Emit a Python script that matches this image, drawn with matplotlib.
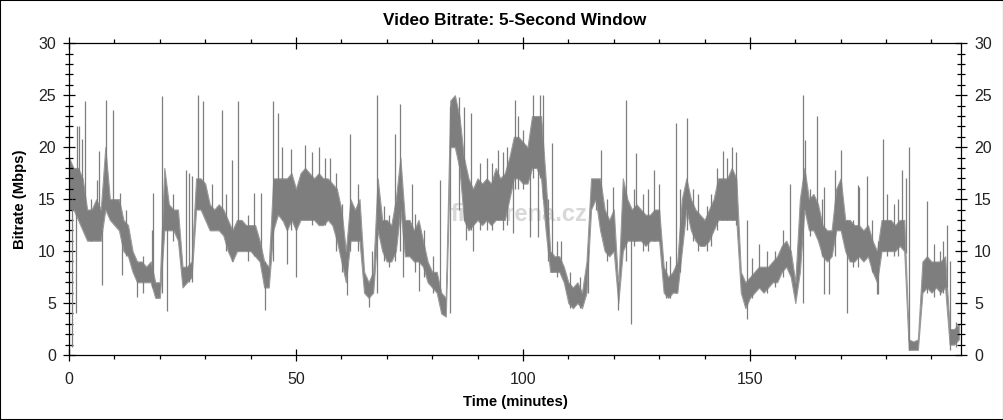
#!/usr/bin/env python3
"""Video bitrate trace (5-second window), redrawn with matplotlib."""
import numpy as np
import matplotlib

matplotlib.use('Agg')
import matplotlib.pyplot as plt
from matplotlib.patches import Rectangle

plt.rcParams['font.family'] = ['Liberation Sans', 'DejaVu Sans']

# per-minute band of the trace (low / high edge, Mbps)
minutes = list(range(197))
band_lo = [
    14, 14, 13, 12, 11, 11, 11, 11, 14, 13,      # 0-9
    12.5, 12, 10, 9.5, 8, 7, 7, 7, 7, 5.5,       # 10-19
    5.5, 12, 12, 12, 11, 6.5, 7, 7.5, 14, 14,    # 20-29
    13, 12, 12, 12, 11.5, 10, 9, 10, 10, 10,     # 30-39
    10, 9.5, 9, 6.5, 6.5, 12, 13.5, 13, 12, 13,  # 40-49
    12, 13, 13, 13, 13, 12.5, 12.5, 13, 12.5, 11,  # 50-59
    9, 7, 11, 11, 11, 6, 5.5, 6, 12, 10,         # 60-69
    9, 9, 10, 14, 9.5, 9.5, 9, 9, 8.5, 7,        # 70-79
    6.5, 6, 4, 3.7, 20, 20, 18, 13, 12, 12.5,    # 80-89
    13, 12.5, 13, 12.5, 13, 13, 13, 15, 17, 17,  # 90-99
    16.5, 16.5, 18, 18, 17, 12, 8, 8, 8, 7,      # 100-109
    5, 4.5, 5, 4.5, 6, 14, 15, 12, 10, 9.5,      # 110-119
    10, 5, 10, 11, 11, 11, 11, 10.5, 11, 11,     # 120-129
    11, 6, 5.5, 6, 6, 10, 14, 12, 11, 10.5,      # 130-139
    10.5, 11, 12, 13, 13, 13, 13, 13, 6, 4.5,    # 140-149
    5.5, 6, 6.5, 6, 6.5, 7, 7, 8, 8.5, 7.5,      # 150-159
    5, 8, 14, 12, 12, 11, 9.5, 9, 9.5, 12,       # 160-169
    12, 10, 9, 9, 9.5, 9, 9.5, 8, 7, 10,         # 170-179
    10, 10, 10, 10.5, 10, 0.5, 0.5, 0.5, 6, 6.5,  # 180-189
    6, 6.5, 6, 6.5, 1, 1, 1.5,                   # 190-196
]
band_hi = [
    19, 18, 18, 17, 14, 14, 15, 14, 20, 15,
    15, 15, 13, 12.5, 10, 9, 9, 8.5, 9, 7,
    7, 18, 14.5, 14, 14, 8.5, 8.5, 9, 17, 17,
    16.5, 14.5, 14, 14.5, 14, 13, 12, 13, 13, 12.5,
    12.5, 12.5, 11, 9, 8.5, 17, 17, 17, 17, 17.5,
    16, 17.5, 18, 17.5, 17, 17.5, 17, 17, 16.5, 16,
    14, 10, 15, 14, 15, 8, 7, 8, 17, 13,
    13, 12.5, 15, 19, 13, 13, 12, 13, 11, 9,
    8, 8, 6, 5.5, 24.5, 25, 23, 19, 17, 16,
    17, 16.5, 17, 16.5, 18, 17, 17.5, 19, 21, 21,
    20.5, 20, 23, 23, 23, 17, 10, 9.5, 9.5, 8.5,
    7, 6.5, 7, 6, 9, 17, 17, 17, 14, 13,
    14, 6.5, 17, 15, 14, 14.5, 14, 13.5, 13.5, 14,
    14, 8.5, 7.5, 8, 9, 15, 17, 15, 14, 13.5,
    13, 14, 15, 17, 17, 17, 18, 17, 8, 7,
    7.5, 8, 8.5, 8.5, 8.5, 9, 9.5, 10.5, 11, 10,
    7, 15, 18, 15, 15.5, 14.5, 12.5, 12, 12, 16,
    17, 13, 13, 12.5, 12.5, 12, 12.5, 11, 10, 13,
    13, 13, 12.5, 13, 13, 1.5, 1.3, 1.5, 9, 9.5,
    9, 9, 9, 9.5, 2.5, 2.5, 3,
]

# narrow spikes and dips (minute, bottom, top)
spike_t = [0.6, 1.5, 1.8, 2.1, 2.8, 3.5, 4.8, 6.1, 6.7, 7.3, 8.2, 9.8, 11.2,
           11.6, 12.5, 14.9, 16.2, 18.2, 18.6, 20.4, 21.5, 23.0, 25.8, 26.5,
           27.2, 28.5, 29.6, 31.5, 33.6, 34.6, 36.0, 37.3, 39.4, 40.8, 42.2,
           43.2, 45.0, 46.0, 47.0, 48.0, 49.0, 50.0, 52.0, 53.5, 55.0, 56.5,
           57.5, 58.9, 60.2, 61.2, 61.9, 63.6, 66.0, 66.7, 67.9, 69.5, 70.5,
           71.8, 73.0, 73.5, 75.5, 76.3, 77.0, 78.3, 80.2, 81.7, 83.9, 86.0,
           87.0, 87.5, 88.5, 89.0, 90.5, 92.0, 93.2, 94.6, 95.5, 96.5, 97.8,
           98.2, 99.0, 100.0, 101.5, 102.3, 103.3, 103.8, 104.5, 105.6, 106.3,
           107.5, 108.4, 110.3, 112.6, 114.3, 116.0, 117.3, 118.6, 119.9,
           121.0, 122.7, 123.7, 124.5, 125.0, 126.5, 127.6, 128.8, 130.0,
           131.6, 132.5, 133.8, 134.7, 136.2, 137.5, 138.6, 140.5, 141.5,
           142.8, 144.0, 145.0, 146.0, 147.0, 149.3, 150.5, 152.0, 153.8,
           155.5, 157.3, 158.8, 161.6, 162.1, 163.3, 164.7, 165.8, 166.3,
           167.5, 168.8, 170.0, 171.3, 172.8, 173.8, 174.1, 175.8, 176.8,
           177.9, 178.2, 179.4, 180.2, 181.7, 182.6, 183.6, 184.3, 185.1,
           188.9, 190.5, 191.8, 192.6, 193.5, 194.0, 195.5]
spike_lo = [0.8, 4, 14, 14, 14, 12, 11, 12, 12, 6.7, 14, 13, 12,
            7.7, 9.5, 5.6, 6, 6.5, 6.6, 6, 4.2, 11, 7, 7,
            7, 15, 14, 12, 12, 10, 9, 10, 9, 9.5, 9,
            4.3, 9, 14, 13, 8.8, 12, 7.5, 14, 12.5, 14, 12.5,
            13, 10, 8, 5.8, 10, 10, 4.6, 6, 6, 9, 8.5,
            9, 10, 7.5, 10, 8, 6.2, 7.5, 6, 6, 4, 14,
            13, 11.1, 12, 10, 12, 12, 12, 13, 12, 12.5, 11.7,
            16, 16, 16, 11.4, 17, 11.4, 17, 15, 9, 8,
            7.5, 8, 4.5, 4.5, 6, 14, 13, 9, 10,
            4.3, 9, 3, 10.5, 11, 10, 10, 11, 11,
            5.5, 5.5, 6, 8, 12, 11, 10, 10, 10.5,
            12, 13, 13, 13, 12.5, 3.5, 5.5, 6.5, 6,
            6.5, 7.5, 8.5, 5, 14, 11.5, 12, 9.5, 5.9,
            5.9, 9.5, 12, 4, 8.5, 8.5, 9.5, 9.5, 8,
            5.9, 5.9, 10, 9.5, 9.5, 9.5, 10.5, 9.8, 0.5,
            6, 5.6, 5.8, 6, 6.5, 0.5, 0.8]
spike_hi = [15, 14, 22, 22, 20.8, 24.4, 15, 16.8, 19.6, 12, 24.5, 23.6, 15.6,
            12, 14, 8, 9.5, 12, 15.6, 24.9, 13, 15.5, 17.8, 17.5,
            17.2, 25, 24.4, 16.5, 23.6, 15.5, 18.8, 24.4, 13.5, 15.6, 15.6,
            9, 24.4, 23.3, 20, 14, 19.8, 13, 20.2, 19.5, 20, 19,
            19, 17.5, 14.5, 9, 21.3, 16.5, 6, 10, 25, 14.3, 13.5,
            21.3, 24.2, 12, 16.5, 13.6, 10, 12, 9.5, 16.8, 24, 24.8,
            23.9, 16, 23.3, 15, 18.5, 19, 18.5, 19.7, 19.5, 20, 18,
            24.5, 23, 21.7, 20, 25, 22, 25, 25, 15, 20.4,
            11, 11, 8, 7.5, 10.1, 16.5, 19.7, 15, 16.2,
            7, 24.5, 12, 16, 19.4, 15.5, 16, 17.8, 16.5,
            9, 9.5, 22.3, 16, 22.8, 16, 15.5, 14.3, 15.5,
            18, 19.6, 19, 20, 19.5, 13, 9.3, 10.7, 10,
            10, 12, 16.5, 25, 20.7, 16, 23, 15, 16.2,
            10, 17.8, 19.7, 13, 13, 16.4, 16.2, 17.2, 13,
            10, 11, 20.8, 15.5, 14.5, 15, 17.8, 17, 20,
            14.8, 10.7, 10, 11, 12.5, 9, 3.2]

trace_color = '#7e7e7e'

fig = plt.figure(figsize=(10.04, 4.2), dpi=100)
ax = fig.add_axes([69 / 1004, 65 / 420, 892 / 1004, 311.7 / 420])

ax.fill_between(minutes, band_lo, band_hi, color=trace_color, lw=0.8,
                edgecolor='#9a9a9a')
ax.vlines(spike_t, spike_lo, spike_hi, color=trace_color, lw=0.9)

ax.set_xlim(0, 196.5)
ax.set_ylim(0, 30)
ax.set_xticks([0, 50, 100, 150])
ax.set_xticks(np.arange(0, 197, 10), minor=True)
ax.set_yticks(np.arange(0, 31, 5))
ax.set_yticks(np.arange(0, 31, 1), minor=True)

ax.tick_params(axis='both', which='both', color='black', labelsize=11.5,
               labelcolor='#222222', width=0.9)
ax.tick_params(axis='y', which='major', direction='inout', length=9, pad=5,
               left=True, right=True, labelleft=True, labelright=True)
ax.tick_params(axis='y', which='minor', direction='inout', length=6,
               left=True, right=True)
ax.tick_params(axis='x', which='major', direction='inout', length=8, pad=8,
               top=True, bottom=True)
ax.tick_params(axis='x', which='minor', direction='out', length=3,
               top=True, bottom=True)
for sp in ax.spines.values():
    sp.set_color('black')
    sp.set_linewidth(0.9)

ax.set_title('Video Bitrate: 5-Second Window', fontsize=12.3, fontweight='bold',
             pad=13)
ax.set_xlabel('Time (minutes)', fontsize=10.7, fontweight='bold', labelpad=6)
ax.set_ylabel('Bitrate (Mbps)', fontsize=10.7, fontweight='bold', labelpad=8)

# faint site watermark in the middle of the plot
ax.text(0.505, 0.45, 'filmarena.cz', transform=ax.transAxes, fontsize=17,
        fontweight='bold', color='#d8d8d8', ha='center', va='center', zorder=0)

fig.patches.append(Rectangle((0, 0), 1, 1, transform=fig.transFigure,
                             fill=False, edgecolor='black', lw=1.5))

fig.savefig('out.png', dpi=100)
